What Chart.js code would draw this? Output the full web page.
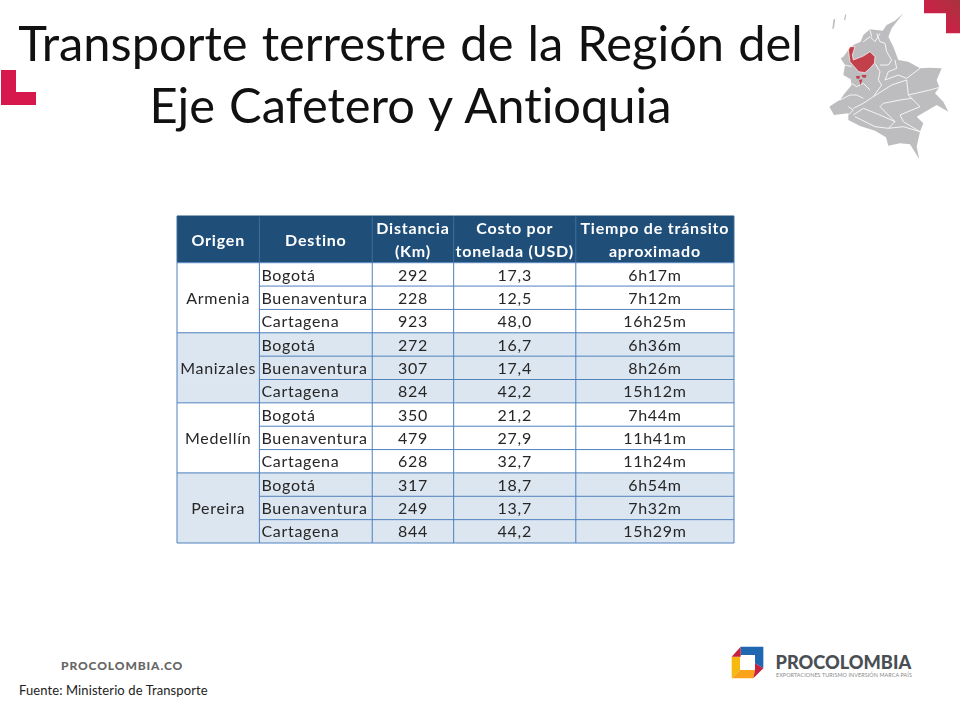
<!DOCTYPE html>
<html lang="es"><head><meta charset="utf-8">
<script src="https://cdn.jsdelivr.net/npm/chart.js@4"></script>
<style>
html,body{margin:0;padding:0;background:#fff;width:960px;height:720px;overflow:hidden;font-family:Lato,sans-serif}
.t{position:absolute;white-space:nowrap;line-height:1;font-variant-ligatures:none}
#title1,#title2{left:410.5px;transform:translateX(-50%);font-size:48.8px;word-spacing:1.6px;color:#111}
#title1{top:18px}#title2{top:80px}
#web{left:61px;top:660px;font-size:12px;font-weight:900;letter-spacing:.9px;color:#666}
#src{left:19px;top:684px;font-size:13px;letter-spacing:.1px;color:#222}
#brand{left:775.5px;top:653px;font-size:18.2px;font-weight:900;color:#4a4f54}
#sub{left:776px;top:673px;font-size:5.4px;color:#888;letter-spacing:.1px}
svg{position:absolute}
canvas{position:absolute;left:170px;top:210px}
</style></head><body>
<div class="t" id="title1">Transporte terrestre de la Región del</div>
<div class="t" id="title2">Eje Cafetero y Antioquia</div>
<svg style="left:0;top:60px" width="50" height="55" viewBox="0 60 50 55"><path d="M1 70H16V92H36V105H1Z" fill="#d6184c"/></svg>
<svg style="left:820px;top:0" width="140" height="165" viewBox="0 0 420 495">
<defs><linearGradient id="g" x1="0" x2="1" y1="1" y2="0"><stop offset="0" stop-color="#e0174d"/><stop offset="1" stop-color="#a8323c"/></linearGradient></defs>
<path d="M312 0H420V100H378V40H312Z" fill="url(#g)"/>
<path d="M250 40 225 62 200 75 188 92 150 88 130 105 122 125 100 135 85 150 70 170 62 175 75 195 70 225 92 238 95 255 72 283 60 300 50 305 28 320 42 345 85 340 85 360 120 378 165 392 198 412 205 437 240 430 270 433 298 478 290 440 300 395 310 370 290 350 350 315 385 335 370 305 345 280 358 262 350 240 365 205 330 203 300 205 265 185 235 180 220 140 205 110 215 85Z" fill="#bdbdbf"/>
<path d="M40 60 46 55 42 85 37 88ZM75 45 79 42 76 60 72 60Z" fill="#bdbdbf"/>
<g fill="none" stroke="#fff" stroke-width="2.5">
<path d="M130 125 150 110 165 125 180 100M170 100 180 125 195 130 200 155 215 180 205 195 180 195M150 90 155 110"/>
<path d="M165 190 180 215 175 240 185 255 160 290 130 310 100 325M225 180 230 205 205 215 195 240 235 225 260 235 300 205"/>
<path d="M260 240 265 285 275 295M160 290 215 255 260 240M265 285 330 270 358 262"/>
<path d="M275 295 240 300 190 310 180 320 225 365M275 295 300 320 240 345 250 365 300 395"/>
<path d="M100 345 130 325 180 345 225 365 205 385 165 380 105 350M60 300 90 285 110 285 130 295"/>
<path d="M95 250 110 260 130 250 150 270M75 195 95 200M85 320 100 330 85 345M205 385 250 380 300 395"/>
</g>
<path d="M90 140 105 140 97 165 100 180 130 168 150 155 165 170 163 190 150 205 135 218 116 215 100 197 90 185 85 150Z" fill="#c2404a" stroke="#fff" stroke-width="2"/>
<path d="M108 228 120 228 118 236 110 236ZM125 225 140 225 136 234 127 232ZM117 240 127 238 122 256Z" fill="#c2404a"/>
</svg>
<svg style="left:720px;top:635px" width="70" height="55" viewBox="0 0 210 165">
<path d="M62 35H130V100L105 85V60H62Z" fill="#1f67b1"/>
<path d="M35 65H60V105L35 130Z" fill="#f6b90f"/>
<path d="M35 130H100L105 105H60Z" fill="#f9a21a"/>
<path d="M35 65 62 35V65Z" fill="#c8213f"/>
<path d="M105 85 130 100 100 130 105 105Z" fill="#c8213f"/>
</svg>
<div class="t" id="web">PROCOLOMBIA.CO</div>
<div class="t" id="src">Fuente: Ministerio de Transporte</div>
<div class="t" id="brand">PROCOLOMBIA</div>
<div class="t" id="sub">EXPORTACIONES TURISMO INVERSIÓN MARCA PAÍS</div>
<canvas id="c" width="572" height="340"></canvas>
<script>
const headers = [["Origen"],["Destino"],["Distancia","(Km)"],["Costo por","tonelada (USD)"],["Tiempo de tránsito","aproximado"]];
const origins = ["Armenia","Manizales","Medellín","Pereira"];
const destinations = ["Bogotá","Buenaventura","Cartagena"];
const distances = [292,228,923,272,307,824,350,479,628,317,249,844];
const costs = [17.3,12.5,48.0,16.7,17.4,42.2,21.2,27.9,32.7,18.7,13.7,44.2];
const times = ["6h17m","7h12m","16h25m","6h36m","8h26m","15h12m","7h44m","11h41m","11h24m","6h54m","7h32m","15h29m"];

const columnSpans = [82.3,112.7,81.3,122,158];
const HEADER_ROWS = 2;
const categories = ["encabezado 1","encabezado 2"];
origins.forEach(o => destinations.forEach(d => categories.push(o+" – "+d)));
const HEAD="#1f4e79", ALT="#dce6f1", LINE="#4f81bd", INK="#262626";
const groupOf = i => Math.floor((i-HEADER_ROWS)/destinations.length);
const fillOf = i => i<HEADER_ROWS ? HEAD : (groupOf(i)%2 ? ALT : "#ffffff");
const edges = columnSpans.reduce((a,w)=>{a.push(a[a.length-1]+w);return a;},[0]);

const tablePlugin = {
  id:"tableCells",
  afterDatasetsDraw(chart){
    const {ctx,scales:{x,y}} = chart;
    const step = y.getPixelForValue(1)-y.getPixelForValue(0);
    const rowEdge = i => y.getPixelForValue(0)+(i-0.5)*step;
    ctx.save();
    ctx.lineWidth=1;
    const seg=(c,x1,y1,x2,y2)=>{ctx.strokeStyle=c;ctx.beginPath();ctx.moveTo(x1,y1);ctx.lineTo(x2,y2);ctx.stroke();};
    edges.forEach(e=>{const p=x.getPixelForValue(e);
      seg("#3f6f9f",p,rowEdge(0),p,rowEdge(HEADER_ROWS));
      seg(LINE,p,rowEdge(HEADER_ROWS),p,rowEdge(categories.length));});
    for(let i=HEADER_ROWS;i<=categories.length;i++){
      const starts=(i-HEADER_ROWS)%destinations.length===0;
      seg(LINE,x.getPixelForValue(starts?edges[0]:edges[1]),rowEdge(i),x.getPixelForValue(edges[5]),rowEdge(i));
    }
    seg(HEAD,x.getPixelForValue(edges[0]),rowEdge(0),x.getPixelForValue(edges[5]),rowEdge(0));
    ctx.textBaseline="middle";ctx.textAlign="center";ctx.fillStyle="#fff";
    ctx.font="700 16px Lato";ctx.letterSpacing="0.8px";
    headers.forEach((lines,c)=>{
      const cx=x.getPixelForValue((edges[c]+edges[c+1])/2);
      if(lines.length===1) ctx.fillText(lines[0],cx,(y.getPixelForValue(0)+y.getPixelForValue(1))/2+1);
      else lines.forEach((s,k)=>ctx.fillText(s,cx,y.getPixelForValue(k)+1));
    });
    ctx.fillStyle=INK;ctx.font="16px Lato";ctx.letterSpacing="0.7px";
    origins.forEach((o,g)=>ctx.fillText(o,x.getPixelForValue((edges[0]+edges[1])/2),y.getPixelForValue(HEADER_ROWS+g*destinations.length+1)+1));
    distances.forEach((d,r)=>{
      const py=y.getPixelForValue(HEADER_ROWS+r)+1;
      ctx.textAlign="left";
      ctx.fillText(destinations[r%destinations.length],x.getPixelForValue(edges[1])+2,py);
      ctx.textAlign="center";
      ctx.fillText(String(d),x.getPixelForValue((edges[2]+edges[3])/2),py);
      ctx.fillText(costs[r].toFixed(1).replace(".",","),x.getPixelForValue((edges[3]+edges[4])/2),py);
      ctx.fillText(times[r],x.getPixelForValue((edges[4]+edges[5])/2),py);
    });
    ctx.restore();
  }
};

new Chart(document.getElementById("c"),{
  type:"bar",
  data:{labels:categories,datasets:columnSpans.map((w,c)=>({
    label:headers[c].join(" "),
    data:categories.map(()=>w),
    backgroundColor:ctx=>fillOf(ctx.dataIndex),
    borderWidth:0,barPercentage:1,categoryPercentage:1
  }))},
  options:{
    indexAxis:"y",responsive:false,animation:false,devicePixelRatio:1,
    layout:{padding:{left:7,top:6,right:8,bottom:7}},
    plugins:{legend:{display:false},tooltip:{enabled:false}},
    scales:{
      x:{stacked:true,display:false,min:0,max:edges[edges.length-1]},
      y:{stacked:true,display:false}
    }
  },
  plugins:[tablePlugin]
});
</script>
</body></html>
